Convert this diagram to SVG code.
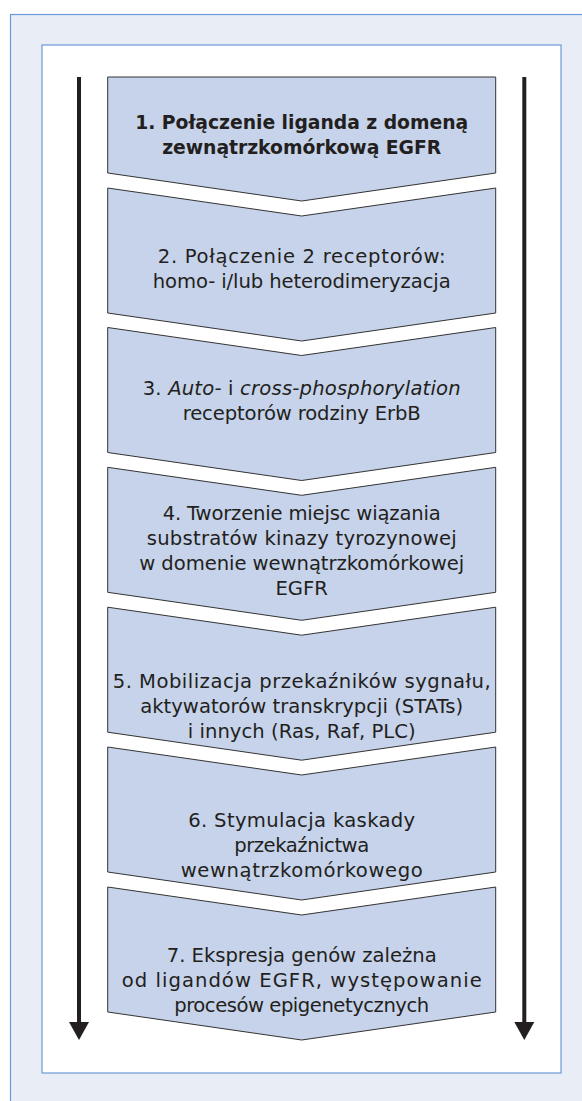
<svg xmlns="http://www.w3.org/2000/svg" width="582" height="1101" viewBox="0 0 582 1101">
<defs>
<style>
.bg{fill:#e8edf6;stroke:#6b9ad6;stroke-width:1.2}
.inner{fill:#ffffff;stroke:#6b9ad6;stroke-width:1.2}
.box{fill:#c6d3ea;stroke:#333333;stroke-width:1}
.t{font-family:"DejaVu Sans",Lato,sans-serif;font-size:19.6px;fill:#231f20;text-anchor:middle}
.b{font-weight:bold;font-size:18.8px}
.axis{stroke:#231f20;stroke-width:4;fill:none}
.head{fill:#231f20}
</style>
</defs>
<rect class="bg" x="10.5" y="14.5" width="590" height="1100"/>
<rect class="inner" x="42" y="45" width="519" height="1028"/>
<g id="connectors">
<line class="axis" x1="79" y1="77" x2="79" y2="1024"/>
<polygon class="head" points="69,1022 89,1022 79,1040"/>
<line class="axis" x1="524.3" y1="77" x2="524.3" y2="1024"/>
<polygon class="head" points="514.3,1022 534.3,1022 524.3,1040"/>
</g>
<g id="step1">
<polygon class="box" points="107.7,77 495.7,77 495.7,173 301.7,201 107.7,173"/>
<text class="t b" x="301.7" y="129" textLength="333">1. Połączenie liganda z domeną</text>
<text class="t b" x="301.7" y="154" textLength="279">zewnątrzkomórkową EGFR</text>
</g>
<g id="step2">
<polygon class="box" points="107.7,188 301.7,216 495.7,188 495.7,313 301.7,341 107.7,313"/>
<text class="t" x="301.7" y="263" textLength="288">2. Połączenie 2 receptorów:</text>
<text class="t" x="301.7" y="288" textLength="298">homo- i/lub heterodimeryzacja</text>
</g>
<g id="step3">
<polygon class="box" points="107.7,327.5 301.7,355.5 495.7,327.5 495.7,452.5 301.7,480.5 107.7,452.5"/>
<text class="t" x="301.7" y="395" textLength="318">3. <tspan font-style="italic">Auto-</tspan> i <tspan font-style="italic">cross-phosphorylation</tspan></text>
<text class="t" x="301.7" y="420" textLength="238">receptorów rodziny ErbB</text>
</g>
<g id="step4">
<polygon class="box" points="107.7,467.3 301.7,495.3 495.7,467.3 495.7,592.3 301.7,620.3 107.7,592.3"/>
<text class="t" x="301.7" y="520" textLength="278">4. Tworzenie miejsc wiązania</text>
<text class="t" x="301.7" y="545" textLength="310">substratów kinazy tyrozynowej</text>
<text class="t" x="301.7" y="570" textLength="325">w domenie wewnątrzkomórkowej</text>
<text class="t" x="301.7" y="595">EGFR</text>
</g>
<g id="step5">
<polygon class="box" points="107.7,607.2 301.7,635.2 495.7,607.2 495.7,732.2 301.7,760.2 107.7,732.2"/>
<text class="t" x="301.7" y="688" textLength="378">5. Mobilizacja przekaźników sygnału,</text>
<text class="t" x="301.7" y="713" textLength="323">aktywatorów transkrypcji (STATs)</text>
<text class="t" x="301.7" y="738" textLength="228">i innych (Ras, Raf, PLC)</text>
</g>
<g id="step6">
<polygon class="box" points="107.7,747 301.7,775 495.7,747 495.7,872 301.7,900 107.7,872"/>
<text class="t" x="301.7" y="827" textLength="227">6. Stymulacja kaskady</text>
<text class="t" x="301.7" y="852" textLength="135">przekaźnictwa</text>
<text class="t" x="301.7" y="877" textLength="242">wewnątrzkomórkowego</text>
</g>
<g id="step7">
<polygon class="box" points="107.7,887 301.7,915 495.7,887 495.7,1012 301.7,1040 107.7,1012"/>
<text class="t" x="301.7" y="962" textLength="270">7. Ekspresja genów zależna</text>
<text class="t" x="301.7" y="987" textLength="360">od ligandów EGFR, występowanie</text>
<text class="t" x="301.7" y="1012" textLength="255">procesów epigenetycznych</text>
</g>
</svg>
